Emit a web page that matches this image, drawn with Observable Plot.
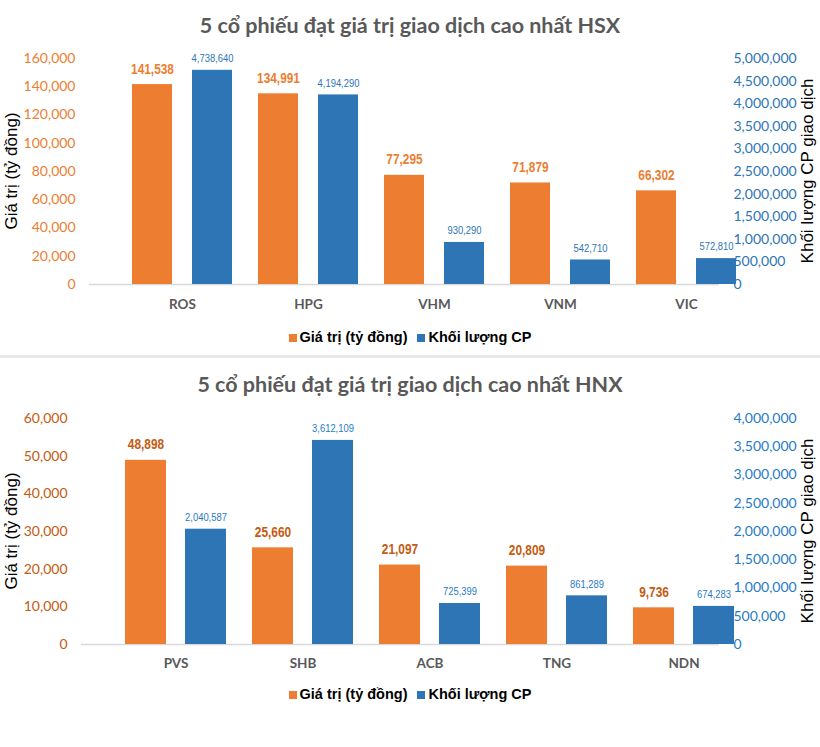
<!DOCTYPE html>
<html><head><meta charset="utf-8">
<script src="https://cdn.jsdelivr.net/npm/d3@7"></script>
<script src="https://cdn.jsdelivr.net/npm/@observablehq/plot@0.6"></script>
<style>
body{margin:0;background:#fff;width:820px;height:747px;overflow:hidden;position:relative;font-family:Lato,sans-serif}
.layer{position:absolute;left:0}
.title{position:absolute;left:0;width:820px;text-align:center;font:bold 21.5px Lato,sans-serif;color:#595959;line-height:30px;white-space:nowrap}
.ytitle{position:absolute;font:17px "Liberation Sans",Arial,sans-serif;color:#000;white-space:nowrap;transform:translate(-50%,-50%) rotate(-90deg)}
.legend{position:absolute;left:0;width:820px;text-align:center;font:bold 14.5px "Liberation Sans",Arial,sans-serif;color:#000;line-height:20px;white-space:nowrap}
.legend .sw{display:inline-block;width:8px;height:8px;margin-right:3px;vertical-align:0px}
.legend .item{margin:0 5px}
.sep{position:absolute;left:0;top:355px;width:820px;height:3px;background:#e9e9e9}
</style>
</head><body>
<script>
// ---------- data ----------
const hsxStocks = ["ROS", "HPG", "VHM", "VNM", "VIC"];
const hsxValue = [141538, 134991, 77295, 71879, 66302];
const hsxVolume = [4738640, 4194290, 930290, 542710, 572810];
const hsxValueTicks = [0, 20000, 40000, 60000, 80000, 100000, 120000, 140000, 160000];
const hsxVolumeTicks = [0, 500000, 1000000, 1500000, 2000000, 2500000, 3000000, 3500000, 4000000, 4500000, 5000000];

const hnxStocks = ["PVS", "SHB", "ACB", "TNG", "NDN"];
const hnxValue = [48898, 25660, 21097, 20809, 9736];
const hnxVolume = [2040587, 3612109, 725399, 861289, 674283];
const hnxValueTicks = [0, 10000, 20000, 30000, 40000, 50000, 60000];
const hnxVolumeTicks = [0, 500000, 1000000, 1500000, 2000000, 2500000, 3000000, 3500000, 4000000];

const seriesNames = ["Giá trị (tỷ đồng)", "Khối lượng CP"];
const leftTitle = "Giá trị (tỷ đồng)";
const rightTitle = "Khối lượng CP giao dịch";
const titles = ["5 cổ phiếu đạt giá trị giao dịch cao nhất HSX", "5 cổ phiếu đạt giá trị giao dịch cao nhất HNX"];

const ORANGE = "#ED7D31", BLUE = "#2E75B6";
const fmt = d3.format(",");
const ARIAL = "'Liberation Sans',Arial,sans-serif";

function add(el){ document.body.appendChild(el); return el; }
function div(cls, text, style){ const d=document.createElement("div"); d.className=cls; if(text!=null) d.textContent=text; Object.assign(d.style, style||{}); return add(d); }

// narrow the data labels (Arial Narrow look)
function narrow(svg){
  svg.querySelectorAll('g[aria-label="text"] text').forEach(t => {
    let tr = t.getAttribute("transform");
    if (!tr) {
      const x = +t.getAttribute("x") || 0, y = +t.getAttribute("y") || 0;
      t.removeAttribute("x"); t.removeAttribute("y");
      tr = `translate(${x},${y})`;
    }
    t.setAttribute("transform", tr + " scale(0.82,1)");
  });
}

function panel(cfg){
  const common = {
    width: 820, height: cfg.height,
    marginTop: cfg.mt, marginBottom: cfg.mb, marginLeft: cfg.ml, marginRight: cfg.mr,
    style: {background: "transparent", fontFamily: "Lato, sans-serif", overflow: "visible"}
  };
  const rowsV = cfg.stocks.map((s,i)=>({stock:s, v:cfg.value[i]}));
  const rowsQ = cfg.stocks.map((s,i)=>({stock:s, q:cfg.volume[i]}));
  const left = Plot.plot({
    ...common,
    x: {domain: cfg.stocks, range: cfg.xr, padding: 0, axis: null},
    y: {domain: [0, cfg.vMax], axis: null},
    marks: [
      Plot.ruleY([0], {stroke: "#d9d9d9", strokeWidth: 1.5}),
      Plot.barY(rowsV, {x: "stock", y: "v", fill: ORANGE, insetLeft: 13, insetRight: 73}),
      Plot.text(rowsV, {x: "stock", y: "v", text: d => fmt(d.v), dx: -30, dy: -15.5, lineAnchor: "middle",
        fill: cfg.vLabelColor, fontWeight: "bold", fontSize: 14.5, fontFamily: ARIAL}),
      Plot.axisY(cfg.vTicks, {anchor: "left", tickSize: 0, tickPadding: cfg.lpad, tickFormat: fmt, label: null,
        fill: cfg.vTickColor, fontSize: 14, fontFamily: "Lato, sans-serif"}),
      Plot.axisX({anchor: "bottom", tickSize: 0, tickPadding: cfg.xpad, label: null,
        fill: "#595959", fontWeight: "bold", fontSize: 13.5, fontFamily: "Lato, sans-serif"})
    ]
  });
  const right = Plot.plot({
    ...common,
    x: {domain: cfg.stocks, range: cfg.xr, padding: 0, axis: null},
    y: {domain: [0, cfg.qMax], axis: null},
    marks: [
      Plot.barY(rowsQ, {x: "stock", y: "q", fill: BLUE, insetLeft: 73, insetRight: 13}),
      Plot.text(rowsQ, {x: "stock", y: "q", text: d => fmt(d.q), dx: 30, dy: -12, lineAnchor: "middle",
        fill: cfg.qLabelColor, fontSize: 11.5, fontFamily: ARIAL}),
      Plot.axisY(cfg.qTicks, {anchor: "right", tickSize: 0, tickPadding: 14, tickFormat: fmt, label: null,
        fill: cfg.qTickColor, fontSize: 14, fontFamily: "Lato, sans-serif"})
    ]
  });
  for (const p of [left, right]) { narrow(p); p.classList.add("layer"); p.style.top = cfg.top + "px"; add(p); }

  div("title", cfg.title, {top: (cfg.titleY - 15) + "px"});
  const cy = cfg.top + cfg.mt + (cfg.height - cfg.mt - cfg.mb) / 2;
  div("ytitle", leftTitle, {left: "12px", top: cy + "px"});
  div("ytitle", rightTitle, {left: "808px", top: cy + "px"});
  const lg = div("legend", null, {top: (cfg.legendY - 10) + "px"});
  [ORANGE, BLUE].forEach((c, i) => {
    const it = document.createElement("span"); it.className = "item";
    const sw = document.createElement("span"); sw.className = "sw"; sw.style.background = c;
    it.appendChild(sw); it.appendChild(document.createTextNode(seriesNames[i]));
    lg.appendChild(it);
  });
}

panel({top: 0, height: 320, mt: 58, mb: 36, ml: 89, mr: 101, xr: [117, 750], lpad: 14, xpad: 15,
  stocks: hsxStocks, value: hsxValue, volume: hsxVolume,
  vTicks: hsxValueTicks, qTicks: hsxVolumeTicks, vMax: 160000, qMax: 5000000,
  vLabelColor: ORANGE, vTickColor: ORANGE, qLabelColor: BLUE, qTickColor: BLUE,
  title: titles[0], titleY: 25, legendY: 337});

div("sep");

panel({top: 357, height: 330, mt: 61, mb: 43, ml: 81, mr: 101, xr: [112, 747], lpad: 14, xpad: 14,
  stocks: hnxStocks, value: hnxValue, volume: hnxVolume,
  vTicks: hnxValueTicks, qTicks: hnxVolumeTicks, vMax: 60000, qMax: 4000000,
  vLabelColor: "#C55A11", vTickColor: "#C55A11", qLabelColor: "#1F7BC8", qTickColor: "#1F7BC8",
  title: titles[1], titleY: 384, legendY: 694});
</script>
</body></html>
